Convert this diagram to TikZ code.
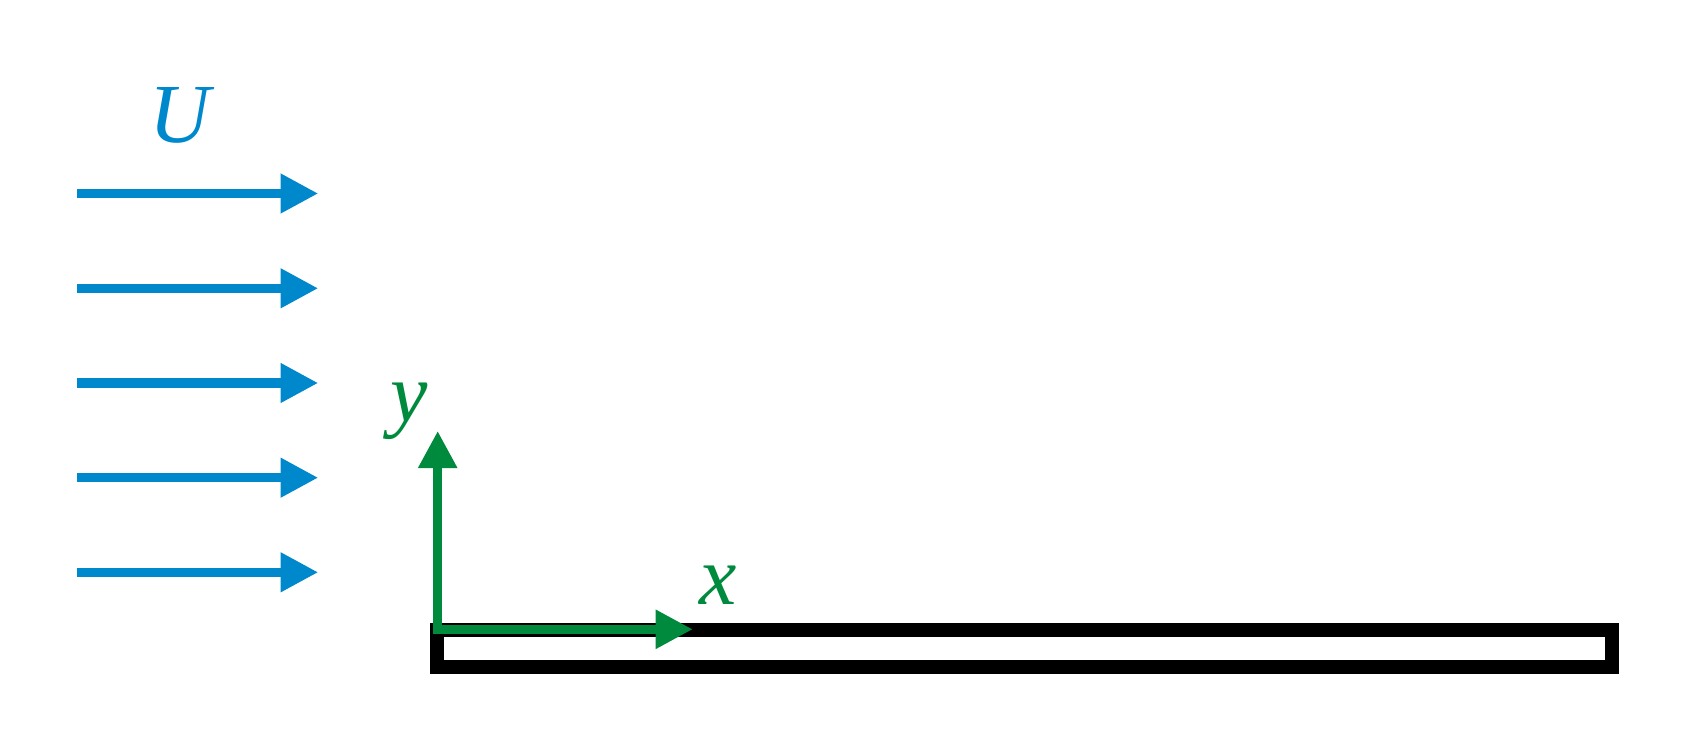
\documentclass[tikz,border=0pt]{standalone}
\usepackage{fontspec}
\setmainfont{Liberation Serif}
\usetikzlibrary{arrows.meta}
\definecolor{flowblue}{RGB}{0,136,204}
\definecolor{axisgreen}{RGB}{0,138,62}
\begin{document}
\begin{tikzpicture}[x=0.5pt,y=-0.5pt,
  flowarrow/.style={draw=flowblue,line width=4.65pt,-{Triangle[length=18.8pt,width=18.6pt]},fill=flowblue},
  axisarrow/.style={draw=axisgreen,line width=4.3pt,-{Triangle[length=18.6pt,width=18.6pt]},fill=axisgreen},
  lbl/.style={inner sep=0pt,font=\fontsize{42}{50}\selectfont\itshape},
  plate/.style={draw=black,line width=7pt}]
\useasboundingbox (0,0) rectangle (1689,747);
% plate
\draw[plate] (437,629.7) rectangle (1612,667.3);
% free-stream arrows
\foreach \i/\yy in {1/193.5,2/288.3,3/383,4/477.7,5/572.3}{
  \coordinate (s\i) at (77,\yy);
  \coordinate (e\i) at (318.3,\yy);
  \draw[flowarrow] (s\i) -- (e\i);
}
\node[lbl,text=flowblue] (U) at (180,115) {U};
% axes
\coordinate (ov) at (437.7,633.5);
\coordinate (oh) at (433.2,629.3);
\coordinate (ytip) at (437.7,431);
\coordinate (xtip) at (692.7,629.3);
\draw[axisarrow] (ov) -- (ytip);
\draw[axisarrow] (oh) -- (xtip);
\node[lbl,text=axisgreen] (ylab) at (409,411) {y};
\node[lbl,text=axisgreen] (xlab) at (718,585) {x};
\end{tikzpicture}
\end{document}
